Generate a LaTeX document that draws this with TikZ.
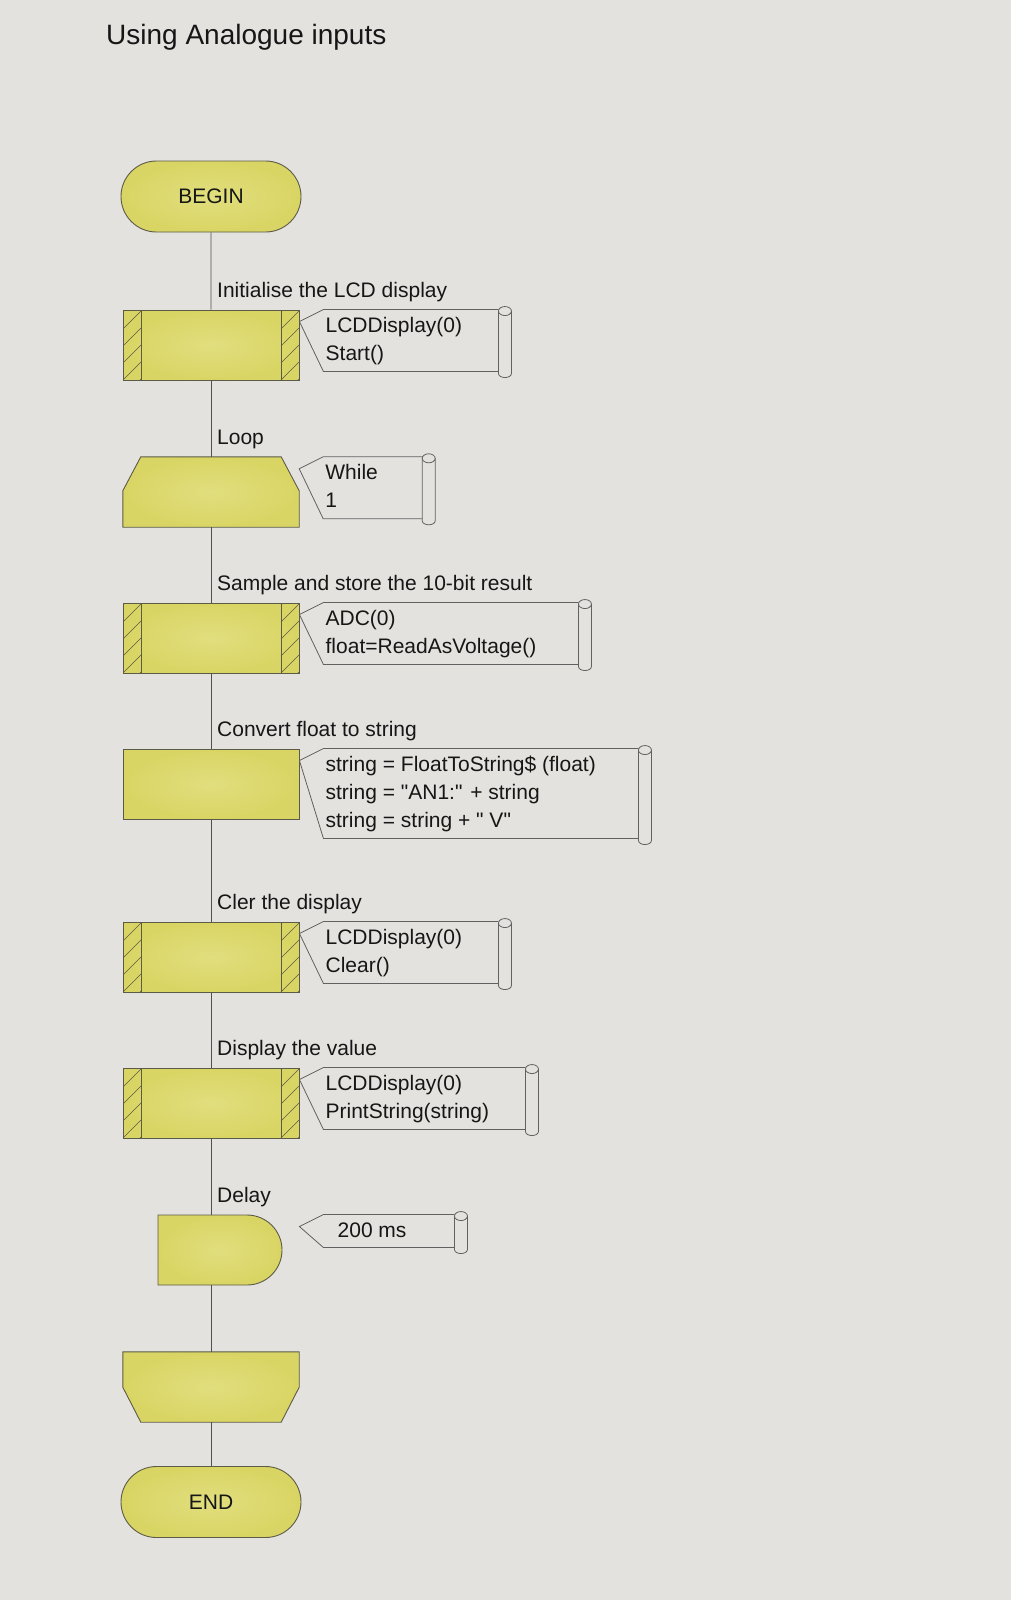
\documentclass[tikz,border=0pt]{standalone}
\usepackage{fontspec}
\setmainfont{Liberation Sans}
\usetikzlibrary{shapes.misc}

\definecolor{paper}{RGB}{228,226,223}
\definecolor{chip}{RGB}{217,213,100}
\definecolor{chiplight}{RGB}{225,222,126}
\definecolor{chipedge}{RGB}{92,91,72}
\definecolor{wire}{RGB}{80,80,80}
\definecolor{ink}{RGB}{22,22,22}

\tikzset{
  flow/.style={draw=wire, line width=0.9pt},
  chipfill/.style={draw=chipedge, line width=0.9pt, shade, inner color=chiplight, outer color=chip},
  ghost/.style={minimum width=176pt, minimum height=70pt, inner sep=0pt},
  block/.style={chipfill, ghost},
  term/.style={chipfill, rounded rectangle, minimum width=180pt, minimum height=71pt, inner sep=0pt,
    font=\fontsize{21}{25}\selectfont, text=ink},
  subcall/.style={block, path picture={
    \draw[chipedge, line width=0.9pt]
      ([xshift=18pt]path picture bounding box.south west) -- ([xshift=18pt]path picture bounding box.north west)
      ([xshift=-18pt]path picture bounding box.south east) -- ([xshift=-18pt]path picture bounding box.north east);
    \foreach \k in {-1,...,4}{
      \draw[chipedge, line width=0.6pt]
        ([yshift=\k*17pt]path picture bounding box.south west) -- ++(18pt,18pt)
        ([shift={(-18pt,\k*17pt)}]path picture bounding box.south east) -- ++(18pt,18pt);
    }}},
  note/.style={draw=wire!90, line width=0.8pt},
  lbl/.style={anchor=base west, inner sep=0pt, font=\fontsize{21}{25}\selectfont, text=ink},
  code/.style={anchor=base west, inner sep=0pt, align=left, font=\fontsize{21}{28}\selectfont, text=ink},
}

% comment scroll beside a block: anchor, height, length
\newcommand{\notescroll}[3]{%
  \draw[note] ([xshift={24pt+#3pt}]#1) -- ([xshift=24pt]#1) -- ([yshift=-12pt]#1)
    -- ([shift={(24pt,-#2pt)}]#1) -- ++(#3,0);
  \draw[note] ([shift={(24pt+#3pt,-1.5pt)}]#1) -- ++(0,#2+0.5)
    arc[start angle=180, end angle=360, x radius=6.5pt, y radius=4pt] -- ++(0,-#2-0.5);
  \draw[note] ([shift={(30.5pt+#3pt,-1.5pt)}]#1) ellipse[x radius=6.5pt, y radius=4.5pt];
}

\begin{document}
\begin{tikzpicture}[x=1pt, y=-1pt]
  \fill[paper] (0,0) rectangle (1011,1600);
  \useasboundingbox (0,0) rectangle (1011,1600);

  % title
  \node[anchor=base west, inner sep=0pt, font=\fontsize{28}{32}\selectfont, text=ink] (title) at (106,45) {Using Analogue inputs};

  % the blocks
  \node[term] (start) at (211,196.5) {BEGIN};
  \node[subcall] (init) at (211,345) {};
  \node[ghost] (loop) at (211,492) {};
  \node[subcall] (sample) at (211,638) {};
  \node[block] (convert) at (211,784) {};
  \node[subcall] (clear) at (211,957) {};
  \node[subcall] (show) at (211,1103) {};
  \node[chipfill, rounded rectangle, rounded rectangle west arc=none, minimum width=124pt,
    minimum height=70pt, inner sep=0pt] (delay) at (220,1250) {};
  \node[ghost] (loopend) at (211,1387) {};
  \node[term] (stop) at (211,1502) {END};
  \coordinate (dtop) at (delay.north -| init);
  \coordinate (dtip) at (delay.north -| init.east);

  % loop start and loop end
  \draw[chipfill] ([yshift=-34pt]loop.north west) -- ([xshift=18pt]loop.north west)
    -- ([xshift=-18pt]loop.north east) -- ([yshift=-34pt]loop.north east)
    -- (loop.south east) -- (loop.south west) -- cycle;
  \draw[chipfill] (loopend.north west) -- (loopend.north east) -- ([yshift=35pt]loopend.south east)
    -- ([xshift=-18pt]loopend.south east) -- ([xshift=18pt]loopend.south west)
    -- ([yshift=35pt]loopend.south west) -- cycle;

  % connectors
  \draw[flow] (start) -- (init);
  \draw[flow] (init) -- (loop);
  \draw[flow] (loop) -- (sample);
  \draw[flow] (sample) -- (convert);
  \draw[flow] (convert) -- (clear);
  \draw[flow] (clear) -- (show);
  \draw[flow] (show) -- (dtop);
  \draw[flow] (delay.south -| show) -- (loopend);
  \draw[flow] (loopend) -- (stop);

  % labels
  \node[lbl] (initlbl) at ([shift={(6pt,12pt)}]init.north) {Initialise the LCD display};
  \node[lbl] (looplbl) at ([shift={(6pt,12pt)}]loop.north) {Loop};
  \node[lbl] (samplelbl) at ([shift={(6pt,12pt)}]sample.north) {Sample and store the 10-bit result};
  \node[lbl] (convertlbl) at ([shift={(6pt,12pt)}]convert.north) {Convert float to string};
  \node[lbl] (clearlbl) at ([shift={(6pt,12pt)}]clear.north) {Cler the display};
  \node[lbl] (showlbl) at ([shift={(6pt,12pt)}]show.north) {Display the value};
  \node[lbl] (delaylbl) at ([shift={(6pt,12pt)}]dtop) {Delay};

  % scrolls (node base = last line)
  \notescroll{init.north east}{62}{175}
  \notescroll{loop.north east}{62}{99}
  \notescroll{sample.north east}{62}{255}
  \notescroll{convert.north east}{90}{315}
  \notescroll{clear.north east}{62}{175}
  \notescroll{show.north east}{62}{202}
  \notescroll{dtip}{33}{131}

  \node[code] (initcode) at ([shift={(26pt,-51pt)}]init.north east) {LCDDisplay(0)\\Start()};
  \node[code] (loopcode) at ([shift={(26pt,-51pt)}]loop.north east) {While\\1};
  \node[code] (samplecode) at ([shift={(26pt,-51pt)}]sample.north east) {ADC(0)\\float=ReadAsVoltage()};
  \node[code] (convertcode) at ([shift={(26pt,-79pt)}]convert.north east)
    {string = FloatToString\$ (float)\\string = \textquotedbl AN1:\textquotedbl{} + string\\string = string + \textquotedbl{} V\textquotedbl};
  \node[code] (clearcode) at ([shift={(26pt,-51pt)}]clear.north east) {LCDDisplay(0)\\Clear()};
  \node[code] (showcode) at ([shift={(26pt,-51pt)}]show.north east) {LCDDisplay(0)\\PrintString(string)};
  \node[code] (delaycode) at ([shift={(38pt,-23pt)}]dtip) {200 ms};
\end{tikzpicture}
\end{document}
